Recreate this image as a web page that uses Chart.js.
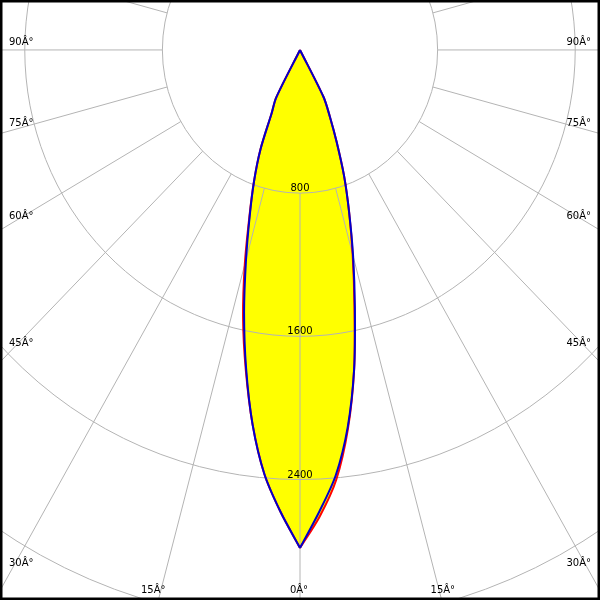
<!DOCTYPE html>
<html>
<head>
<meta charset="utf-8">
<script src="https://cdn.jsdelivr.net/npm/chart.js@4.4.1/dist/chart.umd.min.js"></script>
<style>
html, body { margin: 0; padding: 0; background: #fff; }
canvas { display: block; }
</style>
</head>
<body>
<canvas id="polar" width="600" height="600"></canvas>
<script>
// gamma angles (deg) and intensities (cd) per half plane
const angles = [0, 2.5, 5, 7.5, 10, 12.5, 15, 17.5, 20, 22.5, 25, 27.5, 30];
const blueLeft = [2782, 2584, 2378, 2111, 1805, 1502, 1212, 972, 782, 599, 390, 300, 0];
const blueRight = [2782, 2581, 2385, 2125, 1812, 1474, 1193, 949, 749, 557, 410, 295, 0];
const redLeft = [2782, 2584, 2378, 2111, 1815, 1530, 1240, 980, 782, 599, 390, 300, 0];
const redRight = [2782, 2610, 2412, 2135, 1812, 1462, 1182, 949, 749, 557, 410, 295, 0];

const ringValues = [800, 1600, 2400, 3200, 4000];
const ringLabels = ['800', '1600', '2400'];
const sideTicks = [90, 75, 60, 45, 30];
const bottomTicks = [-15, 0, 15];
const tickSuffix = 'Â°';
const spokeStep = 15;

function polar(deg, val) {
    const r = deg * Math.PI / 180;
    return { x: val * Math.sin(r), y: val * Math.cos(r) };
}

// left half runs from the outer angle in to 0, right half from 0 out
function halfPoints(vals, side) {
    const pts = angles.map((a, i) => polar(side * a, vals[i]));
    return side < 0 ? pts.reverse() : pts;
}

function half(label, vals, side, color) {
    return { label: label, data: halfPoints(vals, side), showLine: true, borderColor: color, borderWidth: 2, pointRadius: 0, tension: 0.3 };
}

const polarGrid = {
    id: 'polarGrid',
    beforeDatasetsDraw(chart) {
        const { ctx, scales: { x, y } } = chart;
        ctx.save();
        // yellow fill, one closed shape per plane (two halves each)
        ctx.fillStyle = '#ffff00';
        for (let i = 0; i < chart.data.datasets.length; i += 2) {
            ctx.beginPath();
            chart.getDatasetMeta(i).dataset.path(ctx);
            chart.getDatasetMeta(i + 1).dataset.path(ctx);
            ctx.fill();
        }
        // rings and spokes on top of the fill
        const cx = x.getPixelForValue(0), cy = y.getPixelForValue(0);
        ctx.strokeStyle = '#b4b4b4';
        ctx.lineWidth = 1;
        ringValues.forEach(v => {
            ctx.beginPath();
            ctx.ellipse(cx, cy, x.getPixelForValue(v) - cx, y.getPixelForValue(v) - cy, 0, 0, Math.PI * 2);
            ctx.stroke();
        });
        const r0 = ringValues[0], r1 = ringValues[ringValues.length - 1];
        for (let a = 0; a < 360; a += spokeStep) {
            const p0 = polar(a, r0), p1 = polar(a, r1);
            ctx.beginPath();
            ctx.moveTo(x.getPixelForValue(p0.x), y.getPixelForValue(p0.y));
            ctx.lineTo(x.getPixelForValue(p1.x), y.getPixelForValue(p1.y));
            ctx.stroke();
        }
        ctx.restore();
    },
    afterDraw(chart) {
        const { ctx, scales: { x, y } } = chart;
        const cx = x.getPixelForValue(0);
        ctx.save();
        ctx.fillStyle = '#000';
        ctx.font = '10px "DejaVu Sans"';
        ctx.textBaseline = 'alphabetic';

        ctx.textAlign = 'center';
        ringLabels.forEach((t, i) => {
            ctx.fillText(t, cx, y.getPixelForValue(ringValues[i]) - 2);
        });

        // side labels sit just above the spoke near the frame
        const edgeVal = -x.getValueForPixel(11);
        sideTicks.forEach(a => {
            const r = a * Math.PI / 180;
            const d = edgeVal / Math.sin(r);
            const py = y.getPixelForValue(d * Math.cos(r)) - 5;
            ctx.textAlign = 'left';
            ctx.fillText(a + tickSuffix, 9, py);
            ctx.textAlign = 'right';
            ctx.fillText(a + tickSuffix, 591, py);
        });

        const bottomVal = y.getValueForPixel(589);
        ctx.textAlign = 'center';
        bottomTicks.forEach(a => {
            const r = a * Math.PI / 180;
            const d = bottomVal / Math.cos(r);
            const px = x.getPixelForValue(d * Math.sin(r));
            const off = a < 0 ? -8 : (a > 0 ? 4 : -1);
            ctx.fillText(Math.abs(a) + tickSuffix, px + off, 593);
        });

        // frame
        ctx.strokeStyle = '#000';
        ctx.lineWidth = 5;
        ctx.strokeRect(0, 0, 600, 600);
        ctx.restore();
    }
};

new Chart(document.getElementById('polar'), {
    type: 'scatter',
    data: {
        datasets: [
            half('C90', blueLeft, -1, '#0000cc'),
            half('C270', blueRight, 1, '#0000cc'),
            half('C180', redLeft, -1, '#ff0000'),
            half('C0', redRight, 1, '#ff0000')
        ]
    },
    options: {
        responsive: false,
        animation: false,
        devicePixelRatio: 1,
        layout: { padding: 0 },
        plugins: { legend: { display: false }, tooltip: { enabled: false } },
        scales: {
            x: { type: 'linear', min: -1744, max: 1744, display: false },
            y: { type: 'linear', min: -279, max: 3073, reverse: true, display: false }
        }
    },
    plugins: [polarGrid]
});
</script>
</body>
</html>
